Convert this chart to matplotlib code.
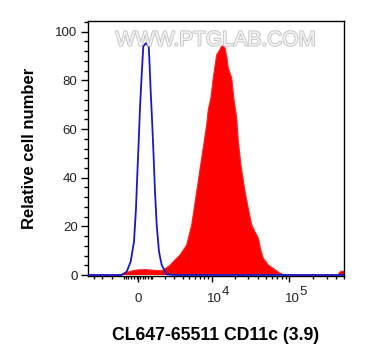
import numpy as np
import matplotlib.pyplot as plt
import matplotlib.patheffects as pe
from matplotlib.ticker import FixedLocator, MultipleLocator, NullFormatter

plt.rcParams['font.family'] = ['Liberation Sans', 'DejaVu Sans']

# isotype control, blue outline
blue_x = [-4892, -1193, -817, -530, -298, -159, -69, 28, 117, 235, 347, 537, 730,
          774, 876, 995, 1101, 1201, 1335, 1521, 1748, 2203, 3068, 500900]
blue_y = [0, 0, 1.4, 5.5, 13.7, 27.4, 41.2, 54.9, 68.6, 82.3, 94, 95.3, 94,
          89.2, 75.4, 61.7, 48, 34.3, 20.6, 9.6, 4.1, 0.3, 0, 0]

# CL647 CD11c stained sample, red filled
red_x = [-4892, -1488, -1093, -723, -368, -21, 466, 973, 1439, 1774, 2133, 2523,
         3059, 3662, 4596, 5410, 6340, 7407, 8635, 9066, 9840, 10548, 11685,
         12519, 13572, 14109, 14976, 15896, 16522, 18278, 19568, 21199, 22228,
         24077, 27099, 29609, 33028, 36409, 40132, 43459, 46505, 53882, 62430,
         76070, 88140, 419500, 445000, 472000, 500900]
red_y = [0, 0, 0.4, 1.2, 1.8, 2.1, 2.2, 2.0, 1.8, 1.8, 2.8, 4.0,
         6.2, 8.2, 12.3, 20.6, 34.3, 48, 61.7, 68, 73, 81, 90.5,
         92, 94, 94.3, 93.4, 89, 85, 81, 72, 64.6, 55,
         45, 34.3, 28, 20.6, 17.8, 15.1, 10, 6.9, 4.1, 2.7,
         0.7, 0, 0, 1.2, 1.6, 1.5]

x_major = [0, 1e4, 1e5]
x_major_labels = ['0', '', '']
x_decades = ['10', '10']
x_exponents = ['4', '5']
x_minor = ([-4000, -3000, -2000, -1000]
           + [-900, -700, -500, -300, -100, 100, 300, 500, 700, 900]
           + [1000, 2000, 3000, 4000, 5000, 6000, 7000, 8000, 9000]
           + [20000, 30000, 40000, 50000, 60000, 70000, 80000, 90000]
           + [200000, 300000, 400000, 500000])
y_major = [0, 20, 40, 60, 80, 100]

c = 2347.0


def fwd(v):
    return np.arcsinh(np.asarray(v) / c) / np.log(10)


def inv(p):
    return np.sinh(np.asarray(p) * np.log(10)) * c


fig = plt.figure(figsize=(3.65, 3.6), dpi=100)
ax = fig.add_axes([88 / 365, 84 / 360, 256 / 365, 255 / 360])
ax.set_xscale('function', functions=(fwd, inv))

ax.fill_between(red_x, red_y, 0, facecolor='#ff0000', linewidth=0, zorder=2)
ax.plot(red_x, red_y, color='#ff2020', linewidth=0.8, zorder=2)
ax.plot(blue_x, blue_y, color='#1818c8', linewidth=1.3, zorder=3)

ax.set_xlim(-4892, 500900)
ax.set_ylim(-0.4, 104.4)

ax.xaxis.set_major_locator(FixedLocator(x_major))
ax.set_xticklabels(x_major_labels)
ax.xaxis.set_minor_locator(FixedLocator(x_minor))
ax.xaxis.set_minor_formatter(NullFormatter())
ax.yaxis.set_major_locator(FixedLocator(y_major))
ax.yaxis.set_minor_locator(MultipleLocator(4))

ax.tick_params(axis='x', which='major', length=4.3, width=1, pad=8, labelsize=9.5,
               labelcolor='#222222')
ax.tick_params(axis='x', which='minor', length=2.5, width=1)
ax.tick_params(axis='y', which='major', length=5, width=1, pad=2.5, labelsize=9.5,
               labelcolor='#222222')
ax.tick_params(axis='y', which='minor', length=2.8, width=1)

# decade labels: "10" plus a raised exponent, as FlowJo draws them
for pos, base, ex in zip(x_major[1:], x_decades, x_exponents):
    ax.annotate(base, xy=(pos, 0), xycoords=('data', 'axes fraction'),
                xytext=(2.2, -16.8), textcoords='offset points',
                fontsize=9.5, color='#222222', ha='center', va='center')
    ax.annotate(ex, xy=(pos, 0), xycoords=('data', 'axes fraction'),
                xytext=(7.4, -11.3), textcoords='offset points',
                fontsize=9.5, color='#222222', ha='left', va='center')

for sp in ax.spines.values():
    sp.set_linewidth(1)

ax.set_ylabel('Relative cell number', fontsize=12, fontweight='bold')
ax.yaxis.set_label_coords(-0.2, 0.5)
ax.set_xlabel('CL647-65511 CD11c (3.9)', fontsize=12.7, fontweight='bold')
ax.xaxis.set_label_coords(0.5, -0.2)

ax.text(0.5, 0.925, 'WWW.PTGLAB.COM', transform=ax.transAxes, ha='center',
        va='center', fontsize=15, color='#f4f4f4', zorder=5,
        path_effects=[pe.withStroke(linewidth=1.3, foreground='#c4c4c4')])

fig.savefig('out.png', dpi=100)
